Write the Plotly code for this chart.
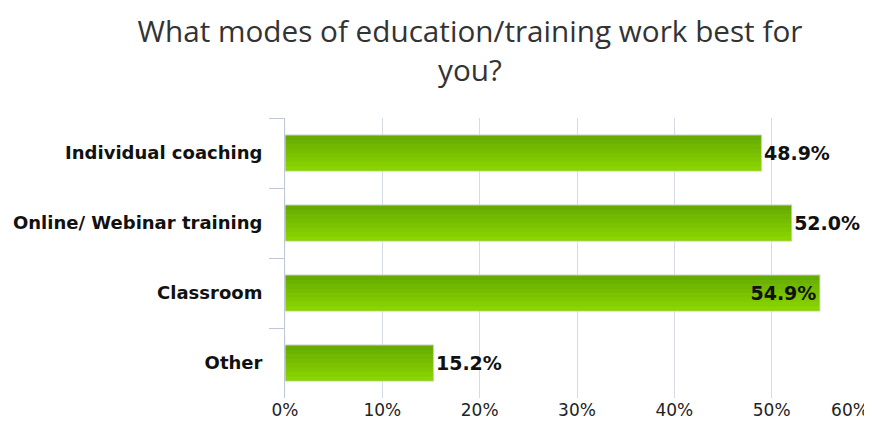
import plotly.graph_objects as go

categories = ["Individual coaching", "Online/ Webinar training", "Classroom", "Other"]
values = [48.9, 52.0, 54.9, 15.2]
labels = ["48.9%", "52.0%", "54.9%", "15.2%"]
positions = ["outside", "outside", "inside", "outside"]
tick_vals = [0, 10, 20, 30, 40, 50]
tick_text = ["0%", "10%", "20%", "30%", "40%", "50%"]
last_tick_val = [60]
last_tick_text = ["60%"]

BODY = 8  # browser default body margin offsets the figure
W, H = 872 - BODY, 434 - BODY

# vertical gradient for the bars: top darker, bottom lighter
band_colors = ["#66ac00", "#6cb200", "#71b800", "#76bd00", "#7bc300",
               "#80c800", "#85ce00", "#8ad400"]
BAR_W = 0.5
nb = len(band_colors)

fig = go.Figure()
# base bar with shadow border
fig.add_trace(go.Bar(
    y=categories, x=values, orientation="h", width=BAR_W,
    marker=dict(color=band_colors[4], line=dict(color="#c9ccc4", width=2)),
    hoverinfo="skip", cliponaxis=False,
))
for i, c in enumerate(band_colors):
    fig.add_trace(go.Bar(
        y=categories, x=values, orientation="h",
        width=BAR_W / nb + 0.004, offset=-BAR_W / 2 + i * BAR_W / nb,
        marker=dict(color=c, line=dict(width=0)),
        hoverinfo="skip",
    ))
# labels
fig.add_trace(go.Bar(
    y=categories, x=values, orientation="h", width=BAR_W,
    text=labels, textposition=positions, insidetextanchor="end",
    textfont=dict(family="DejaVu Sans", size=19, color="#111111", weight="bold"),
    insidetextfont=dict(family="DejaVu Sans", size=19, color="#111111", weight="bold"),
    outsidetextfont=dict(family="DejaVu Sans", size=19, color="#111111", weight="bold"),
    marker=dict(color="rgba(0,0,0,0)", line=dict(width=0)),
    cliponaxis=False,
))
# helper on the overlay axis so it gets drawn
fig.add_trace(go.Bar(y=categories, x=[0, 0, 0, 0], orientation="h", xaxis="x2",
                     marker=dict(color="rgba(0,0,0,0)"), hoverinfo="skip"))

fig.update_layout(
    width=W, height=H,
    margin=dict(l=285 - BODY, r=3, t=118 - BODY, b=36),
    paper_bgcolor="white", plot_bgcolor="white",
    barmode="overlay",
    title=dict(text="What modes of education/training work best for<br>you?",
               x=(470 - BODY) / W, xanchor="center", y=0.920, yanchor="middle",
               yref="container",
               font=dict(family="Open Sans", size=29.7, color="#333333")),
    showlegend=False,
    xaxis=dict(range=[0, 60], tickvals=tick_vals, ticktext=tick_text,
               showgrid=True, gridcolor="#d6dce6", gridwidth=1,
               zeroline=False, showline=False, ticks="",
               ticklabeloverflow="allow",
               tickfont=dict(family="DejaVu Sans", size=17, color="#222222")),
    xaxis2=dict(range=[0, 60], overlaying="x", side="bottom", tickvals=last_tick_val,
                ticktext=last_tick_text, showgrid=True, gridcolor="#d6dce6",
                zeroline=False, showline=False, ticks="", ticklabelshift=-19,
                ticklabeloverflow="allow",
                tickfont=dict(family="DejaVu Sans", size=17, color="#222222")),
    yaxis=dict(autorange="reversed", showline=True, linecolor="#c0c8d8", linewidth=1,
               ticks="outside", tickson="boundaries", ticklen=15, tickcolor="#c0c8d8",
               ticklabelstandoff=18,
               tickfont=dict(family="DejaVu Sans", size=18, color="#111111", weight="bold")),
)

fig.write_html("out.html")
